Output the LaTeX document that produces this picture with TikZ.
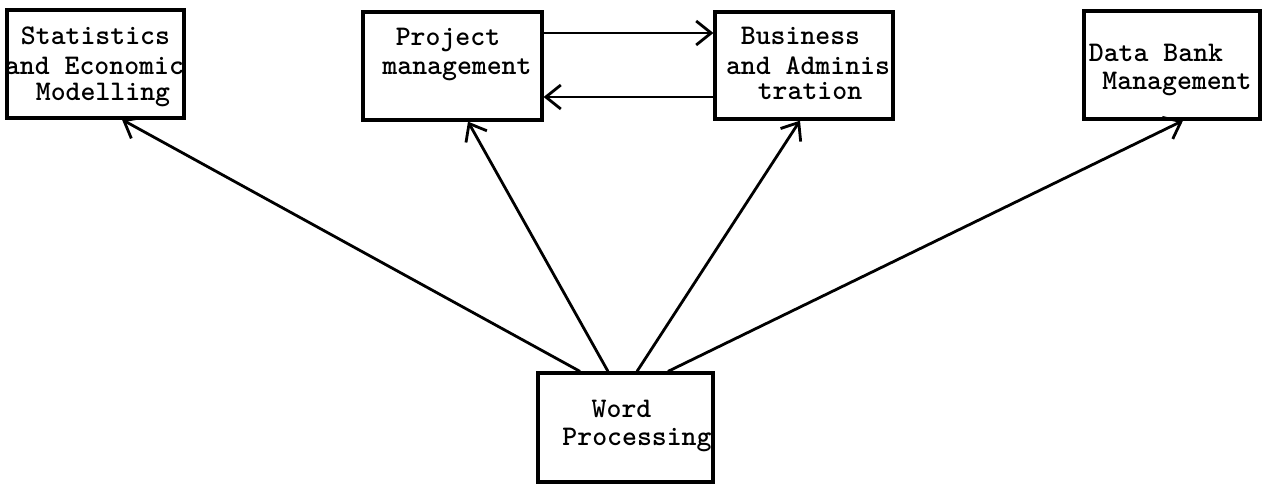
\documentclass[tikz,border=0pt]{standalone}
\usetikzlibrary{arrows.meta}
\begin{document}
\begin{tikzpicture}[x=1pt,y=1pt,
  box/.style={draw, line width=3.2pt, rectangle, inner sep=0pt},
  txt/.style={anchor=base, inner sep=0pt, text depth=0pt, font=\fontsize{28.4}{29}\ttfamily\bfseries},
  link/.style={line width=2.8pt, -{Straight Barb[length=15pt,width=24pt,line width=2.8pt]}}]
\useasboundingbox (0,0) rectangle (1270,-484);

% boxes
\node[box, minimum width=177pt, minimum height=108pt] (s) at (95.5,-64) {};
\node[box, minimum width=179pt, minimum height=108pt] (p) at (452.5,-66) {};
\node[box, minimum width=178pt, minimum height=107pt] (b) at (804,-65.5) {};
\node[box, minimum width=176pt, minimum height=108pt] (d) at (1172,-65) {};
\node[box, minimum width=175pt, minimum height=109pt] (w) at (625.5,-427.5) {};

% labels, one line each
\node[txt] (s1) at (95.5,-45) {Statistics};
\node[txt] (s2) at (94.5,-75) {and Economic};
\node[txt] (s3) at (103,-101) {Modelling};

\node[txt] (p1) at (448,-46) {Project};
\node[txt] (p2) at (457,-75) {management};

\node[txt] (b1) at (800.5,-45) {Business};
\node[txt] (b2) at (808,-75) {and Adminis};
\node[txt] (b3) at (810,-100) {tration};

\node[txt] (d1) at (1156,-62) {Data Bank};
\node[txt] (d2) at (1177,-90) {Management};

\node[txt] (w1) at (621.5,-417) {Word};
\node[txt] (w2) at (637,-445) {Processing};

% links between the two upper middle boxes
\draw[link] ([yshift=33pt]p.east) -- ([yshift=33pt]p.east -| b.west);
\draw[link] ([yshift=-31.5pt]b.west) -- ([yshift=-31.5pt]b.west -| p.east);

% links fanning out from Word Processing
\draw[link] ([xshift=-45.5pt]w.north) -- ([xshift=26.5pt]s.south);
\draw[link] ([xshift=-17.5pt]w.north) -- ([xshift=15.5pt]p.south);
\draw[link] ([xshift=11.5pt]w.north) -- ([xshift=-4pt]b.south);
\draw[link] ([xshift=42.5pt]w.north) -- ([xshift=11pt]d.south);
\end{tikzpicture}
\end{document}
